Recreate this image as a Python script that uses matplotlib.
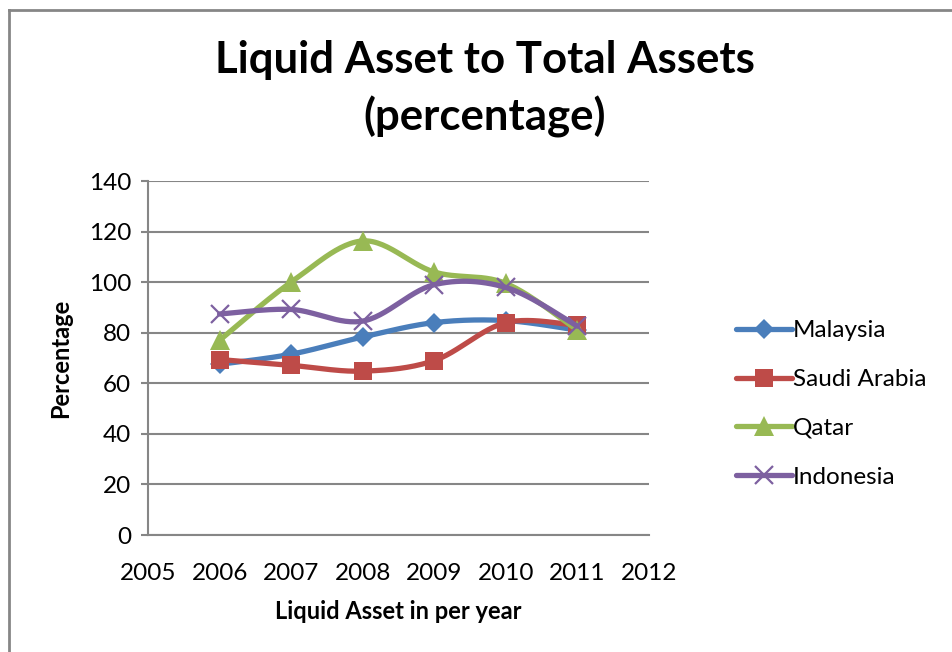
import numpy as np
import matplotlib.pyplot as plt
from matplotlib.lines import Line2D

plt.rcParams['font.family'] = ['Lato', 'DejaVu Sans']

years = [2006, 2007, 2008, 2009, 2010, 2011]
malaysia = [67.5, 71.5, 78.3, 84.0, 84.8, 81.0]
saudi_arabia = [69.4, 67.1, 64.8, 69.0, 84.0, 82.9]
qatar = [77.0, 100.0, 116.3, 104.0, 99.5, 81.0]
indonesia = [87.4, 89.2, 84.6, 99.0, 97.9, 82.6]

series = [
    ("Malaysia", malaysia, "#4A7EBB", "D", 10),
    ("Saudi Arabia", saudi_arabia, "#BE4B48", "s", 13),
    ("Qatar", qatar, "#98B954", "^", 14),
    ("Indonesia", indonesia, "#7D60A0", "x", 13),
]


def smooth(x, y, n=30):
    # Catmull-Rom curve through the points (like Excel's smoothed line)
    x = np.asarray(x, float)
    y = np.asarray(y, float)
    px = np.concatenate([[x[0]], x, [x[-1]]])
    py = np.concatenate([[y[0]], y, [y[-1]]])
    xs, ys = [], []
    t = np.linspace(0, 1, n)
    for i in range(1, len(px) - 2):
        for p, out in ((px, xs), (py, ys)):
            p0, p1, p2, p3 = p[i - 1], p[i], p[i + 1], p[i + 2]
            out.extend(0.5 * ((2 * p1) + (-p0 + p2) * t
                              + (2 * p0 - 5 * p1 + 4 * p2 - p3) * t ** 2
                              + (-p0 + 3 * p1 - 3 * p2 + p3) * t ** 3))
    return np.array(xs), np.array(ys)


fig = plt.figure(figsize=(9.52, 6.52), dpi=100)
ax = fig.add_axes([148 / 952, 1 - 535 / 652, (649 - 148) / 952, (535 - 181) / 652])

grey = "#868686"
handles = []
for i, (name, vals, color, marker, ms) in enumerate(series):
    sx, sy = smooth(years, vals)
    ax.plot(sx, sy, color=color, lw=3.8, solid_capstyle='round', zorder=3 + i)
    mew = 1.6 if marker == "x" else 0
    ax.plot(years, vals, linestyle='none', marker=marker, markersize=ms,
            color=color, markeredgewidth=mew, zorder=3 + i)
    handles.append(Line2D([], [], color=color, lw=3.8, marker=marker,
                          markersize=ms, markeredgewidth=mew, solid_capstyle='round'))

ax.set_xlim(2005, 2012)
ax.set_ylim(0, 140)
ax.set_xticks(range(2005, 2013))
ax.set_yticks(range(0, 141, 20))
ax.yaxis.grid(True, color=grey, lw=1.5)
ax.set_axisbelow(True)
for side in ['top', 'right']:
    ax.spines[side].set_visible(False)
for side in ['left', 'bottom']:
    ax.spines[side].set_color(grey)
    ax.spines[side].set_linewidth(1.5)
ax.tick_params(axis='x', length=0, pad=20, labelsize=17.5)
ax.tick_params(axis='y', length=5, width=1.5, color=grey, pad=7, labelsize=17.5)

ax.set_xlabel("Liquid Asset in per year", fontsize=17, fontweight='bold', labelpad=12)
ax.set_ylabel("Percentage", fontsize=17, fontweight='bold', labelpad=12)

fig.text(485 / 952, 1 - 60 / 652, "Liquid Asset to Total Assets", ha='center', va='center',
         fontsize=31.5, fontweight='bold')
fig.text(485 / 952, 1 - 117 / 652, "(percentage)", ha='center', va='center',
         fontsize=31.5, fontweight='bold')

fig.legend(handles, [s[0] for s in series], loc='center left',
           bbox_to_anchor=(726 / 952, 1 - 404 / 652), frameon=False,
           fontsize=17.5, handlelength=2.3, handletextpad=0.05, labelspacing=1.15,
           borderaxespad=0)

# outer chart border (only left and top visible in this crop)
fig.add_artist(Line2D([8.5 / 952, 8.5 / 952], [1 - 9.5 / 652, 0], color=grey, lw=2,
                      transform=fig.transFigure))
fig.add_artist(Line2D([8.5 / 952, 1], [1 - 9.5 / 652, 1 - 9.5 / 652], color=grey, lw=2,
                      transform=fig.transFigure))

fig.savefig("out.png", dpi=100)
